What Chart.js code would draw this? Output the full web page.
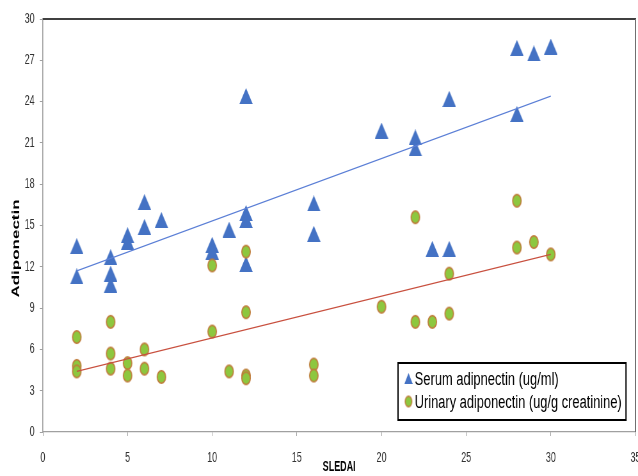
<!DOCTYPE html>
<html>
<head>
<meta charset="utf-8">
<script src="https://cdn.jsdelivr.net/npm/chart.js@4.4.1/dist/chart.umd.min.js"></script>
<style>
html,body{margin:0;padding:0;background:#fff;overflow:hidden;width:638px;height:476px;}
#c{position:absolute;left:0;top:0;transform-origin:0 0;}
</style>
</head>
<body>
<canvas id="c"></canvas>
<script>
// ---- data ----
const serumX = [2,2,4,4,4,5,5,6,6,7,10,10,11,12,12,12,12,16,16,20,22,22,23,24,24,28,28,29,30];
const serumY = [13.5,11.3,12.7,11.5,10.7,14.3,13.8,16.7,14.9,15.4,13.6,13.1,14.7,24.4,15.9,15.4,12.2,16.6,14.4,21.9,21.4,20.6,13.3,13.3,24.2,27.9,23.1,27.5,28.0];
const urinaryX = [2,2,2,4,4,4,5,5,6,6,7,10,10,11,12,12,12,12,16,16,20,22,22,23,24,24,28,28,29,30];
const urinaryY = [6.9,4.8,4.4,8.0,5.7,4.6,5.0,4.1,6.0,4.6,4.0,12.1,7.3,4.4,13.1,8.7,4.1,3.9,4.9,4.1,9.1,8.0,15.6,8.0,8.6,11.5,16.8,13.4,13.8,12.9];
const trendX = [2,30];
const serumTrendY = [11.7,24.4];
const urinaryTrendY = [4.4,12.9];
const seriesLabels = ['Serum adipnectin (ug/ml)','Urinary adiponectin (ug/g creatinine)'];
const xTitle = 'SLEDAI';
const yTitle = 'Adiponectin';

// ---- canvas (drawn wide, then compressed horizontally like the reference) ----
const W = 997, H = 476, F = 638 / W;
const cv = document.getElementById('c');
cv.width = W; cv.height = H;
cv.style.width = W + 'px'; cv.style.height = H + 'px';
cv.style.transform = 'scaleX(' + F + ')';

const FONT = '"Liberation Sans", Arial, sans-serif';
const BLUE = '#4472C4', GREEN = '#8DC73F', BROWN = '#C07A3A';

function makeTriangle(w, h, color) {
  const c = document.createElement('canvas');
  c.width = w; c.height = h;
  const g = c.getContext('2d');
  g.fillStyle = color;
  g.beginPath(); g.moveTo(w / 2, 0); g.lineTo(w, h); g.lineTo(0, h); g.closePath(); g.fill();
  return c;
}
function makeEllipse(w, h, fill, stroke, lw) {
  const c = document.createElement('canvas');
  c.width = w + 2; c.height = h + 2;
  const g = c.getContext('2d');
  g.beginPath(); g.ellipse(c.width / 2, c.height / 2, w / 2 - lw / 2, h / 2 - lw / 2, 0, 0, Math.PI * 2);
  g.fillStyle = fill; g.fill();
  g.lineWidth = lw; g.strokeStyle = stroke; g.stroke();
  return c;
}
const triImg = makeTriangle(21, 16, BLUE);
const cirImg = makeEllipse(15, 14, GREEN, BROWN, 1.6);
const triLeg = makeTriangle(13, 11, BLUE);
const cirLeg = makeEllipse(12, 12, GREEN, BROWN, 1.4);

const pts = (xs, ys) => xs.map((x, i) => ({x: x, y: ys[i]}));

const decor = {
  id: 'decor',
  afterDatasetsDraw(chart) {
    const ctx = chart.ctx, a = chart.chartArea;
    ctx.save();
    ctx.strokeStyle = '#404040'; ctx.lineWidth = 2;
    ctx.beginPath(); ctx.moveTo(a.left, a.top); ctx.lineTo(a.right + 1, a.top); ctx.stroke();
    ctx.strokeStyle = '#707070'; ctx.lineWidth = 2;
    ctx.beginPath(); ctx.moveTo(a.right, a.top); ctx.lineTo(a.right, a.bottom); ctx.stroke();
    ctx.restore();
  },
  afterDraw(chart) {
    const ctx = chart.ctx;
    ctx.save();
    // y title
    ctx.translate(25.8, 248.5);
    ctx.rotate(-Math.PI / 2);
    ctx.font = 'bold 17px ' + FONT;
    ctx.fillStyle = '#000';
    ctx.textAlign = 'center'; ctx.textBaseline = 'middle';
    ctx.fillText(yTitle, 0, 0);
    ctx.restore();
    // legend
    const bx = 398 / F, by = 363, bw = (626 - 398) / F, bh = 57;
    ctx.save();
    ctx.fillStyle = '#fff'; ctx.fillRect(bx, by, bw, bh);
    ctx.strokeStyle = '#000'; ctx.lineWidth = 2; ctx.strokeRect(bx, by, bw, bh);
    const mx = 408.5 / F;
    ctx.drawImage(triLeg, mx - triLeg.width / 2, 378.5 - triLeg.height / 2);
    ctx.drawImage(cirLeg, mx - cirLeg.width / 2, 401.5 - cirLeg.height / 2);
    ctx.font = '18px ' + FONT; ctx.fillStyle = '#000';
    ctx.textAlign = 'left'; ctx.textBaseline = 'alphabetic';
    const tx = 414.7 / F;
    const rows = [[seriesLabels[0], 384.5, 144 / F], [seriesLabels[1], 407.5, 207 / F]];
    rows.forEach(r => {
      const w = ctx.measureText(r[0]).width;
      ctx.save(); ctx.translate(tx, r[1]); ctx.scale(r[2] / w, 1);
      ctx.fillText(r[0], 0, 0); ctx.restore();
    });
    ctx.restore();
  }
};

new Chart(cv, {
  type: 'scatter',
  data: {
    datasets: [
      {label: 'serum trend', data: pts(trendX, serumTrendY), showLine: true, borderColor: '#5B7FD6', borderWidth: 1.3, pointRadius: 0, pointBorderWidth: 0, order: 0},
      {label: 'urinary trend', data: pts(trendX, urinaryTrendY), showLine: true, borderColor: '#C8503F', borderWidth: 1.3, pointRadius: 0, pointBorderWidth: 0, order: 0},
      {label: seriesLabels[1], data: pts(urinaryX, urinaryY), pointStyle: cirImg, pointRadius: 1, pointBorderWidth: 0, order: 1},
      {label: seriesLabels[0], data: pts(serumX, serumY), pointStyle: triImg, pointRadius: 1, pointBorderWidth: 0, order: 2}
    ]
  },
  options: {
    responsive: false, animation: false, devicePixelRatio: 1,
    datasets: {scatter: {clip: false}},
    layout: {padding: {left: 0, right: 3, top: 19, bottom: 0}},
    plugins: {legend: {display: false}, tooltip: {enabled: false}},
    scales: {
      x: {
        type: 'linear', min: 0, max: 35,
        ticks: {stepSize: 5, color: '#333', font: {family: FONT, size: 14}, padding: 14, maxRotation: 0},
        grid: {drawOnChartArea: false, drawTicks: true, tickLength: 4, color: '#A0A0A0'},
        border: {color: '#A0A0A0', width: 1.2},
        title: {display: true, text: xTitle, color: '#000', font: {family: FONT, size: 14, weight: 'bold'}, padding: 0},
        afterFit(s) { s.height = 44; s.paddingLeft = 0; s.paddingRight = 0; }
      },
      y: {
        type: 'linear', min: 0, max: 30,
        ticks: {stepSize: 3, color: '#333', font: {family: FONT, size: 14}, padding: 8},
        grid: {drawOnChartArea: false, drawTicks: true, tickLength: 5, color: '#A0A0A0'},
        border: {color: '#A0A0A0', width: 1.6},
        afterFit(s) { s.width = 67; }
      }
    }
  },
  plugins: [decor]
});
</script>
</body>
</html>
